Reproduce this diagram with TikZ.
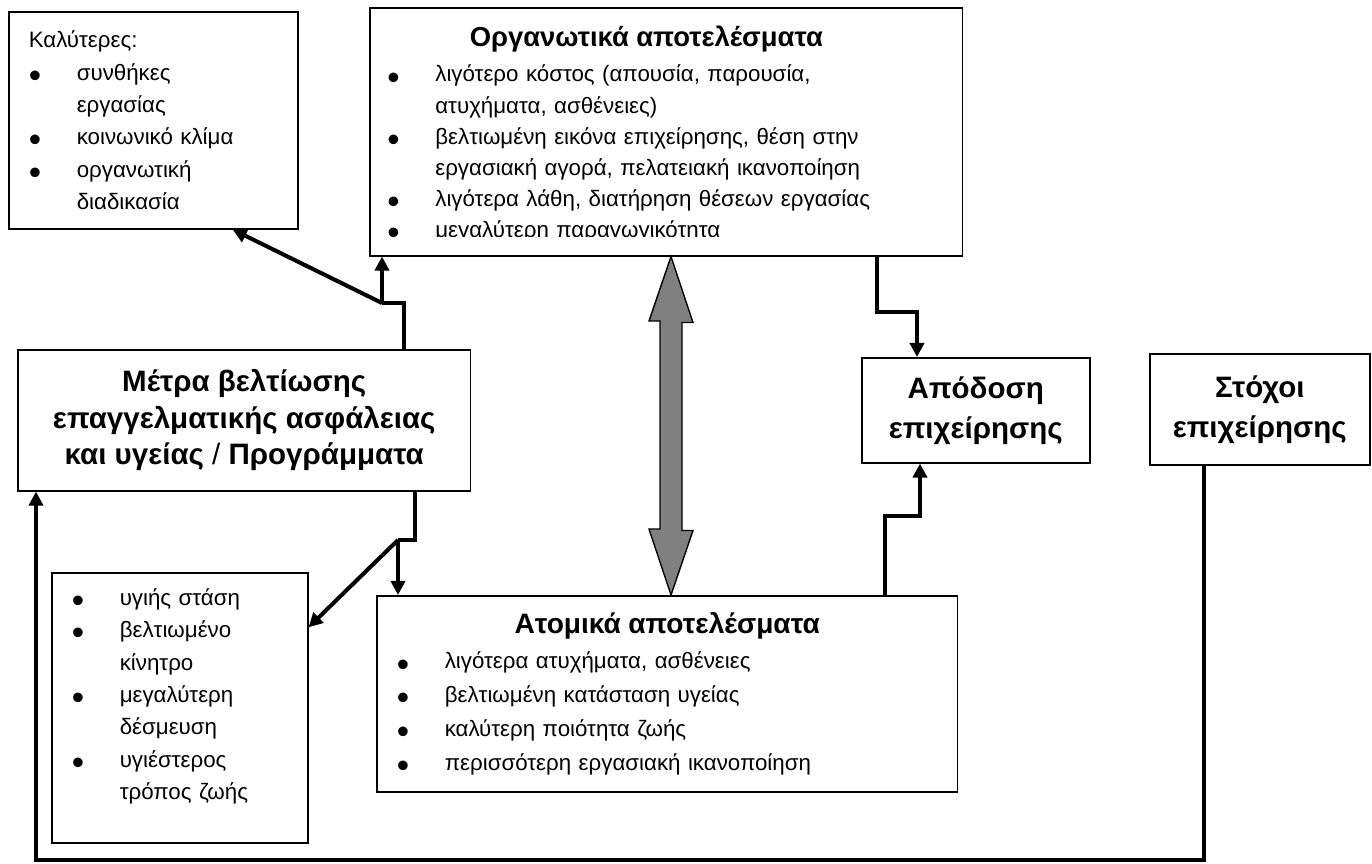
\documentclass[tikz,border=0pt]{standalone}
\usepackage{fontspec}
\setmainfont{Liberation Sans}
\usetikzlibrary{arrows.meta}

\newcommand{\itm}{\makebox[0.96cm][l]{\raisebox{-4pt}[0pt][0pt]{\fontsize{20}{20}\selectfont •}}}
\newcommand{\cnt}{\hspace*{0.96cm}}
\newcommand{\ttlfont}{\bfseries\fontsize{16}{18}\selectfont}

\tikzset{
  box/.style={draw, line width=0.9pt, anchor=north west, inner sep=0pt},
  lst/.style={box, align=left, inner xsep=0.4cm},
  ttl/.style={box, align=center, font=\bfseries\fontsize{16.8}{22.8}\selectfont},
  conn/.style={line width=2.3pt},
  arr/.style={conn, -{Triangle[width=8pt,length=8pt]}}
}

\begin{document}
\begin{tikzpicture}[x=0.02cm, y=-0.02cm]
  \useasboundingbox (0,0) rectangle (1372,863);

  \node[lst, text width=4.98cm, minimum width=5.78cm, minimum height=4.34cm,
    font=\fontsize{12.7}{18.4}\selectfont] (better) at (8,11)
    {Καλύτερες:\\ \itm συνθήκες\\ \cnt εργασίας\\ \itm κοινωνικό κλίμα\\
     \itm οργανωτική\\ \cnt διαδικασία};

  \begin{scope}
    \clip (369,7) rectangle (962,236);
    \node[anchor=north west, inner sep=0pt, text width=11cm, align=left,
      font=\fontsize{12.7}{17.75}\selectfont] (orgtext) at (387,26)
      {\makebox[10.36cm]{\bfseries\fontsize{15.6}{18}\selectfont Οργανωτικά αποτελέσματα}\\[2.2pt]
       \itm λιγότερο κόστος (απουσία, παρουσία,\\
       \cnt ατυχήματα, ασθένειες)\\
       \itm βελτιωμένη εικόνα επιχείρησης, θέση στην\\
       \cnt εργασιακή αγορά, πελατειακή ικανοποίηση\\
       \itm λιγότερα λάθη, διατήρηση θέσεων εργασίας\\
       \itm μεγαλύτερη παραγωγικότητα};
  \end{scope}
  \node[box, minimum width=11.86cm, minimum height=4.96cm] (org) at (369,7) {};

  \node[ttl, minimum width=9.06cm, minimum height=2.82cm,
    font=\bfseries\fontsize{16.8}{20.8}\selectfont] (measures) at (17,349)
    {Μέτρα βελτίωσης\\ επαγγελματικής ασφάλειας\\ και υγείας {\mdseries /} Προγράμματα};

  \node[ttl, minimum width=4.56cm, minimum height=2.1cm] (perf) at (861,357)
    {Απόδοση\\ επιχείρησης};
  \node[ttl, minimum width=4.4cm, minimum height=2.22cm] (goals) at (1149,353)
    {Στόχοι\\ επιχείρησης};

  \node[lst, text width=4.32cm, minimum width=5.12cm, minimum height=5.4cm,
    text depth=126pt, font=\fontsize{12.7}{18.4}\selectfont] (attitude) at (51,572)
    {\itm υγιής στάση\\ \itm βελτιωμένο\\ \cnt κίνητρο\\ \itm μεγαλύτερη\\
     \cnt δέσμευση\\ \itm υγιέστερος\\ \cnt τρόπος ζωής};

  \node[lst, text width=10.82cm, minimum width=11.62cm, minimum height=3.92cm,
    font=\fontsize{12.7}{19.3}\selectfont] (indiv) at (376,595)
    {\makebox[10.82cm]{\ttlfont Ατομικά αποτελέσματα}\\[1pt]
     \itm λιγότερα ατυχήματα, ασθένειες\\ \itm βελτιωμένη κατάσταση υγείας\\
     \itm καλύτερη ποιότητα ζωής\\ \itm περισσότερη εργασιακή ικανοποίηση};

  \coordinate (m1) at (404,303); \coordinate (m2) at (382,303);
  \draw[conn] (measures.north -| m1) -- (m1) -- (m2);
  \draw[arr] (m2) -- (m2 |- org.south);
  \draw[arr] (m2) -- (better.-54.5);

  \coordinate (m3) at (415,540); \coordinate (m4) at (398,540);
  \draw[conn] (measures.south -| m3) -- (m3) -- (m4);
  \draw[arr] (m4) -- (m4 |- indiv.north);
  \draw[arr] (m4) -- (attitude.32.6);

  \coordinate (o1) at (877,312); \coordinate (o2) at (917,312);
  \draw[arr] (org.south -| o1) -- (o1) -- (o2) -- (o2 |- perf.north);

  \coordinate (i1) at (885,516); \coordinate (i2) at (920,516);
  \draw[arr] (indiv.north -| i1) -- (i1) -- (i2) -- (i2 |- perf.south);

  \coordinate (f1) at (1204,860); \coordinate (f2) at (36,860);
  \draw[arr] (goals.south -| f1) -- (f1) -- (f2) -- (f2 |- measures.south);

  \coordinate (d0) at (671,0);
  \filldraw[fill=gray, draw=black, line width=0.8pt]
    (org.south -| d0) -- ++(22,66) -- ++(-11,0) -- ++(0,208) -- ++(11,0)
    -- (indiv.north -| d0) -- ++(-22,-66) -- ++(11,0) -- ++(0,-208)
    -- ++(-11,0) -- cycle;
\end{tikzpicture}
\end{document}
